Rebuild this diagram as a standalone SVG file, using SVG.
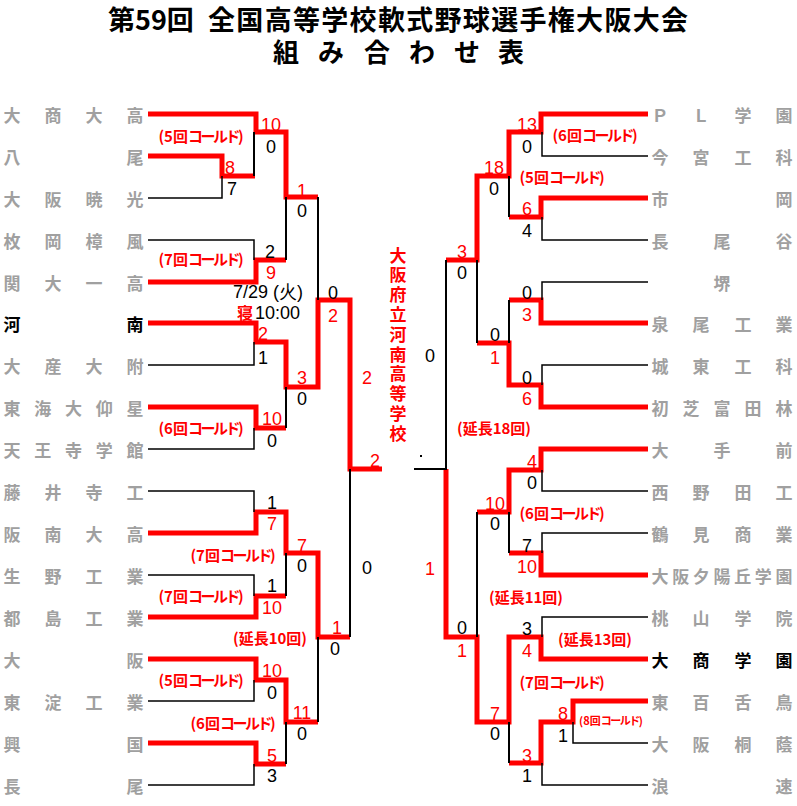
<svg xmlns="http://www.w3.org/2000/svg" width="797" height="806" viewBox="0 0 797 806">
<style>
.ttl{font-family:"Noto Sans CJK JP","Noto Sans",sans-serif;font-weight:bold;fill:#000}
.t{font-family:"Noto Sans CJK JP","Noto Sans",sans-serif;font-weight:bold;font-size:17px;fill:#a0a0a0;text-anchor:middle}
.tb{fill:#000}
.s{font-family:"Liberation Sans",Arial,sans-serif;font-size:18px;text-anchor:middle}
.st{text-anchor:start}
.cj{font-family:"Noto Sans CJK JP","Noto Sans",sans-serif;font-weight:bold}
.r{fill:#f00}
.k{fill:#000}
.n{font-family:"Noto Sans CJK JP","Noto Sans",sans-serif;font-weight:bold;font-size:15px;fill:#f00;text-anchor:middle}
.ns{font-size:11px}
.kt{letter-spacing:-2.5px}
.champ{font-family:"Noto Sans CJK JP","Noto Sans",sans-serif;font-weight:bold;font-size:17px;fill:#f00;text-anchor:middle}
.lr{fill:none;stroke:#f00;stroke-width:5;stroke-linejoin:miter}
.lk{fill:none;stroke:#000;stroke-width:1.5}
.lv{fill:none;stroke:#000;stroke-width:2}
</style>
<rect width="797" height="806" fill="#fff"/>
<g id="title">
<text class="ttl" x="108" y="30" font-size="27">第59回</text>
<text class="ttl" x="208" y="30" font-size="27" textLength="480" lengthAdjust="spacing">全国高等学校軟式野球選手権大阪大会</text>
<text class="ttl" y="62" font-size="26" text-anchor="middle" x="286 331 377 422 467 511">組み合わせ表</text>
</g>
<g id="connectors">
<path class="lr" d="M148,114H256V132H286V197H318"/>
<path class="lr" d="M148,156H222V176H255"/>
<path class="lr" d="M148,282H256V260H286"/>
<path class="lr" d="M148,323H256V342H286V387H318V300H350V469H382"/>
<path class="lr" d="M148,407H256V428H286"/>
<path class="lr" d="M148,533H256V512H286V553H318V637H350"/>
<path class="lr" d="M148,617H256V596H286"/>
<path class="lr" d="M148,659H256V680H286V722H318"/>
<path class="lr" d="M148,743H256V764H286"/>
<path class="lk" d="M148,198H222V176"/>
<path class="lv" d="M254,132V176"/>
<path class="lk" d="M148,240H254V260"/>
<path class="lv" d="M286,197V260"/>
<path class="lv" d="M318,197V300"/>
<path class="lk" d="M148,365H254V342"/>
<path class="lk" d="M148,449H254V428"/>
<path class="lv" d="M286,387V428"/>
<path class="lv" d="M350,469V637"/>
<path class="lk" d="M148,491H254V512"/>
<path class="lk" d="M148,575H254V596"/>
<path class="lv" d="M286,553V596"/>
<path class="lk" d="M148,701H254V680"/>
<path class="lk" d="M148,785H254V764"/>
<path class="lv" d="M286,722V764"/>
<path class="lv" d="M318,637V722"/>
<path class="lr" d="M648,114H541V132H509V176H477V260H446"/>
<path class="lr" d="M648,198H541V217H509"/>
<path class="lr" d="M648,323H541V300H509"/>
<path class="lr" d="M648,407H541V385H509V343H477"/>
<path class="lr" d="M648,449H541V470H509V512H477"/>
<path class="lr" d="M648,575H541V553H509"/>
<path class="lr" d="M648,659H541V637H509V722H477V637H446V469"/>
<path class="lr" d="M648,701H573V722H541V763H509"/>
<path class="lk" d="M648,156H542V132"/>
<path class="lk" d="M648,240H542V217"/>
<path class="lv" d="M509,176V217"/>
<path class="lv" d="M477,260V343"/>
<path class="lk" d="M648,282H542V300"/>
<path class="lk" d="M648,365H542V385"/>
<path class="lv" d="M509,300V343"/>
<path class="lv" d="M446,260V469H414"/>
<path class="lk" d="M648,491H542V470"/>
<path class="lk" d="M648,533H542V553"/>
<path class="lv" d="M509,512V553"/>
<path class="lv" d="M477,512V637"/>
<path class="lk" d="M648,617H542V637"/>
<path class="lk" d="M648,743H573V722"/>
<path class="lk" d="M648,785H542V763"/>
<path class="lv" d="M509,722V763"/>
<rect x="420" y="455" width="2" height="2" fill="#000"/>
</g>
<g id="teams-left">
<g id="L01"><text class="t" y="121.5" x="12 53 94 135">大商大高</text></g>
<g id="L02"><text class="t" y="163.5" x="12 135">八尾</text></g>
<g id="L03"><text class="t" y="205.5" x="12 53 94 135">大阪暁光</text></g>
<g id="L04"><text class="t" y="247.5" x="12 53 94 135">枚岡樟風</text></g>
<g id="L05"><text class="t" y="289.5" x="12 53 94 135">関大一高</text></g>
<g id="L06"><text class="t tb" y="330.5" x="12 135">河南</text></g>
<g id="L07"><text class="t" y="372.5" x="12 53 94 135">大産大附</text></g>
<g id="L08"><text class="t" y="414.5" x="12 42.75 73.5 104.25 135">東海大仰星</text></g>
<g id="L09"><text class="t" y="456.5" x="12 42.75 73.5 104.25 135">天王寺学館</text></g>
<g id="L10"><text class="t" y="498.5" x="12 53 94 135">藤井寺工</text></g>
<g id="L11"><text class="t" y="540.5" x="12 53 94 135">阪南大高</text></g>
<g id="L12"><text class="t" y="582.5" x="12 53 94 135">生野工業</text></g>
<g id="L13"><text class="t" y="624.5" x="12 53 94 135">都島工業</text></g>
<g id="L14"><text class="t" y="666.5" x="12 135">大阪</text></g>
<g id="L15"><text class="t" y="708.5" x="12 53 94 135">東淀工業</text></g>
<g id="L16"><text class="t" y="750.5" x="12 135">興国</text></g>
<g id="L17"><text class="t" y="792.5" x="12 135">長尾</text></g>
</g>
<g id="teams-right">
<g id="R01"><text class="t" y="121.5" x="660 701 743 784">ＰＬ学園</text></g>
<g id="R02"><text class="t" y="163.5" x="660 701 743 784">今宮工科</text></g>
<g id="R03"><text class="t" y="205.5" x="660 784">市岡</text></g>
<g id="R04"><text class="t" y="247.5" x="660 722 784">長尾谷</text></g>
<g id="R05"><text class="t" y="289.5" x="722">堺</text></g>
<g id="R06"><text class="t" y="330.5" x="660 701 743 784">泉尾工業</text></g>
<g id="R07"><text class="t" y="372.5" x="660 701 743 784">城東工科</text></g>
<g id="R08"><text class="t" y="414.5" x="660 691 722 753 784">初芝富田林</text></g>
<g id="R09"><text class="t" y="456.5" x="660 722 784">大手前</text></g>
<g id="R10"><text class="t" y="498.5" x="660 701 743 784">西野田工</text></g>
<g id="R11"><text class="t" y="540.5" x="660 701 743 784">鶴見商業</text></g>
<g id="R12"><text class="t" y="582.5" x="660 680.7 701.3 722 742.7 763.3 784">大阪夕陽丘学園</text></g>
<g id="R13"><text class="t" y="624.5" x="660 701 743 784">桃山学院</text></g>
<g id="R14"><text class="t tb" y="666.5" x="660 701 743 784">大商学園</text></g>
<g id="R15"><text class="t" y="708.5" x="660 701 743 784">東百舌鳥</text></g>
<g id="R16"><text class="t" y="750.5" x="660 701 743 784">大阪桐蔭</text></g>
<g id="R17"><text class="t" y="792.5" x="660 784">浪速</text></g>
</g>
<g id="champion">
<text class="champ" x="398 398 398 398 398 398 398 398 398 398" y="261.5 281.3 301.1 320.9 340.7 360.5 380.3 400.1 419.9 439.7">大阪府立河南高等学校</text>
</g>
<g id="scores-left">
<text class="s r" x="271" y="130.5">10</text><text class="s k" x="271" y="152.5">0</text>
<text class="s r" x="230" y="173.5">8</text><text class="s k" x="232" y="194.5">7</text>
<text class="s k" x="270" y="257.5">2</text><text class="s r" x="271" y="278.5">9</text>
<text class="s r" x="302" y="196.5">1</text><text class="s k" x="302" y="216.5">0</text>
<text class="s k" x="333" y="298.5">0</text><text class="s r" x="333" y="321.5">2</text>
<text class="s r" x="263" y="339.5">2</text><text class="s k" x="263" y="363.5">1</text>
<text class="s r" x="302" y="383.5">3</text><text class="s k" x="302" y="404.5">0</text>
<text class="s r" x="272" y="424.5">10</text><text class="s k" x="272" y="446.5">0</text>
<text class="s r" x="367" y="383.5">2</text><text class="s k" x="367" y="573.5">0</text>
<text class="s r" x="375" y="466.5">2</text>
<text class="s k" x="272" y="508.5">1</text><text class="s r" x="272" y="529.5">7</text>
<text class="s r" x="302" y="551.5">7</text><text class="s k" x="302" y="571.5">0</text>
<text class="s k" x="272" y="591.5">1</text><text class="s r" x="272" y="613.5">10</text>
<text class="s r" x="337" y="633.5">1</text><text class="s k" x="335" y="654.5">0</text>
<text class="s r" x="272" y="676.5">10</text><text class="s k" x="272" y="698.5">0</text>
<text class="s r" x="302" y="718.5">11</text><text class="s k" x="302" y="739.5">0</text>
<text class="s r" x="272" y="761.5">5</text><text class="s k" x="272" y="781.5">3</text>
<text class="s k" x="268" y="298">7/29 (火)</text>
<text class="s r cj" x="245" y="319" style="font-size:16px">寝</text>
<text class="s k st" x="255" y="319">10:00</text>
</g>
<g id="scores-right">
<text class="s r" x="527" y="130.5">13</text><text class="s k" x="527" y="152.5">0</text>
<text class="s r" x="527" y="214.5">6</text><text class="s k" x="527" y="236.5">4</text>
<text class="s r" x="494" y="173.5">18</text><text class="s k" x="494" y="194.5">0</text>
<text class="s r" x="462" y="257.5">3</text><text class="s k" x="462" y="278.5">0</text>
<text class="s k" x="527" y="298.5">0</text><text class="s r" x="527" y="320.5">3</text>
<text class="s k" x="527" y="383.5">0</text><text class="s r" x="527" y="404.5">6</text>
<text class="s k" x="495" y="340.5">0</text><text class="s r" x="495" y="363.5">1</text>
<text class="s k" x="430" y="361.5">0</text><text class="s r" x="430" y="574.5">1</text>
<text class="s r" x="532" y="467.5">4</text><text class="s k" x="532" y="488.5">0</text>
<text class="s r" x="495" y="509.5">10</text><text class="s k" x="495" y="529.5">0</text>
<text class="s k" x="527" y="551.5">7</text><text class="s r" x="527" y="572.5">10</text>
<text class="s k" x="462" y="633.5">0</text><text class="s r" x="462" y="656.5">1</text>
<text class="s k" x="527" y="634.5">3</text><text class="s r" x="527" y="656.5">4</text>
<text class="s r" x="495" y="719.5">7</text><text class="s k" x="495" y="739.5">0</text>
<text class="s r" x="563" y="719.5">8</text><text class="s k" x="563" y="741.5">1</text>
<text class="s r" x="527" y="761.5">3</text><text class="s k" x="527" y="781.5">1</text>
</g>
<g id="notes">
<text class="n" x="201" y="141.5">(5回<tspan class="kt">コールド</tspan>)</text>
<text class="n" x="201" y="264.5">(7回<tspan class="kt">コールド</tspan>)</text>
<text class="n" x="201" y="433.5">(6回<tspan class="kt">コールド</tspan>)</text>
<text class="n" x="233" y="560.5">(7回<tspan class="kt">コールド</tspan>)</text>
<text class="n" x="201" y="601.5">(7回<tspan class="kt">コールド</tspan>)</text>
<text class="n" x="270" y="643.5">(延長10回)</text>
<text class="n" x="201" y="685.5">(5回<tspan class="kt">コールド</tspan>)</text>
<text class="n" x="233" y="728.5">(6回<tspan class="kt">コールド</tspan>)</text>
<text class="n" x="595" y="140.5">(6回<tspan class="kt">コールド</tspan>)</text>
<text class="n" x="562" y="182.5">(5回<tspan class="kt">コールド</tspan>)</text>
<text class="n" x="494" y="433.5">(延長18回)</text>
<text class="n" x="562" y="518.5">(6回<tspan class="kt">コールド</tspan>)</text>
<text class="n" x="526" y="602.5">(延長11回)</text>
<text class="n" x="595" y="644.5">(延長13回)</text>
<text class="n" x="562" y="687.5">(7回<tspan class="kt">コールド</tspan>)</text>
<text class="n ns" x="611" y="725">(8回<tspan letter-spacing="-1.5">コールド</tspan>)</text>
</g>
</svg>
